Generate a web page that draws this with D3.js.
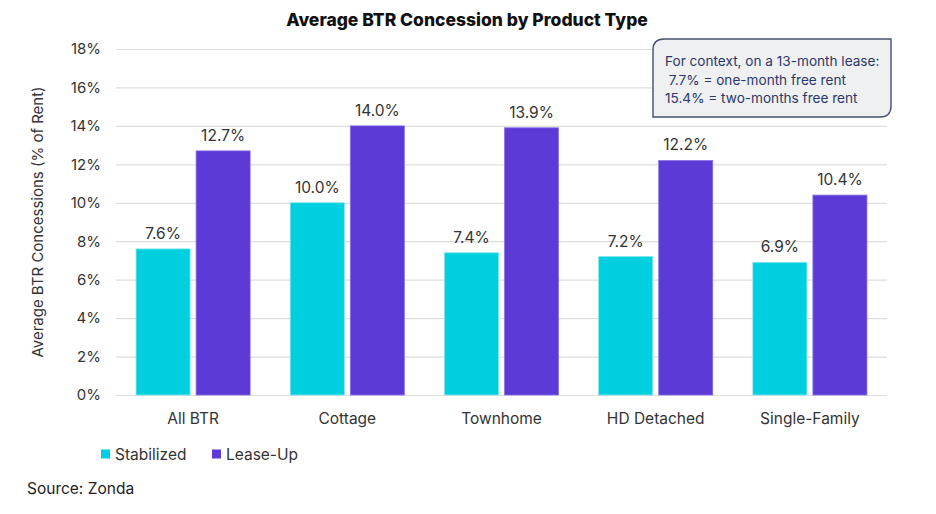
<!DOCTYPE html>
<html>
<head>
<meta charset="utf-8">
<script src="https://cdn.jsdelivr.net/npm/d3@7"></script>
<style>
  body { margin: 0; background: #fff; }
  svg { font-family: Inter, 'Open Sans', sans-serif; }
</style>
</head>
<body>
<svg width="936" height="514"></svg>
<script>
  const categories = ['All BTR', 'Cottage', 'Townhome', 'HD Detached', 'Single-Family'];
  const seriesNames = ['Stabilized', 'Lease-Up'];
  const stabilized = [7.6, 10.0, 7.4, 7.2, 6.9];
  const leaseUp = [12.7, 14.0, 13.9, 12.2, 10.4];
  const yTicks = [0, 2, 4, 6, 8, 10, 12, 14, 16, 18];
  const noteLines = ['For context, on a 13-month lease:', ' 7.7% = one-month free rent', '15.4% = two-months free rent'];

  const colors = ['#00cfdf', '#5b3ad6'];
  const svg = d3.select('svg');
  const margin = {top: 49, right: 49, bottom: 119, left: 116};
  const width = +svg.attr('width');
  const height = +svg.attr('height');
  const innerWidth = width - margin.left - margin.right;
  const innerHeight = height - margin.top - margin.bottom;

  const data = categories.map((c, i) => ({category: c, values: [stabilized[i], leaseUp[i]]}));

  const x0 = d3.scaleBand().domain(categories).range([0, innerWidth]).paddingInner(0.26).paddingOuter(0.13);
  const x1 = d3.scaleBand().domain(seriesNames).range([0, x0.bandwidth()]).paddingInner(0.1);
  const y = d3.scaleLinear().domain([0, 18]).range([innerHeight, 0]);

  const g = svg.append('g').attr('transform', `translate(${margin.left},${margin.top})`);

  // grid + y axis
  const yAxisG = g.append('g')
    .call(d3.axisLeft(y).tickValues(yTicks).tickFormat(d => d + '%').tickSize(-innerWidth).tickPadding(15))
    .attr('font-size', 15).attr('font-family', null);
  yAxisG.select('.domain').remove();
  yAxisG.selectAll('.tick line').attr('stroke', '#dedede').attr('stroke-width', 1.2);
  yAxisG.selectAll('.tick text').attr('fill', '#333');

  // x axis
  const xAxisG = g.append('g')
    .attr('transform', `translate(0,${innerHeight})`)
    .call(d3.axisBottom(x0).tickSize(0).tickPadding(18))
    .attr('font-size', 15.5).attr('font-family', null);
  xAxisG.select('.domain').remove();
  xAxisG.selectAll('.tick text').attr('fill', '#333');

  // bars
  const groups = g.selectAll('.grp').data(data).enter().append('g')
    .attr('transform', d => `translate(${x0(d.category)},0)`);

  groups.selectAll('rect').data(d => d.values.map((v, i) => ({key: seriesNames[i], v, i})))
    .enter().append('rect')
      .attr('x', d => x1(d.key))
      .attr('y', d => y(d.v))
      .attr('width', x1.bandwidth())
      .attr('height', d => innerHeight - y(d.v))
      .attr('fill', d => colors[d.i])
      .attr('stroke', d => d.i === 0 ? '#7fe6ee' : '#8a70e6')
      .attr('stroke-width', 0.8);

  groups.selectAll('.lbl').data(d => d.values.map((v, i) => ({key: seriesNames[i], v})))
    .enter().append('text')
      .attr('x', d => x1(d.key) + x1.bandwidth() / 2)
      .attr('y', d => y(d.v) - 10)
      .attr('text-anchor', 'middle')
      .attr('font-size', 15.5)
      .attr('fill', '#333')
      .text(d => d.v.toFixed(1) + '%');

  // title
  svg.append('text')
    .attr('x', 467).attr('y', 26)
    .attr('text-anchor', 'middle')
    .attr('font-size', 17.5).attr('font-weight', 800).attr('fill', '#111')
    .text('Average BTR Concession by Product Type');

  // y axis title
  svg.append('text')
    .attr('transform', `translate(43,${margin.top + innerHeight / 2}) rotate(-90)`)
    .attr('text-anchor', 'middle')
    .attr('font-size', 15).attr('fill', '#333')
    .text('Average BTR Concessions (% of Rent)');

  // legend
  const legend = svg.append('g').attr('transform', 'translate(101,454)');
  const legendX = [0, 111];
  seriesNames.forEach((s, i) => {
    legend.append('rect').attr('x', legendX[i]).attr('y', -4.5).attr('width', 9).attr('height', 9).attr('fill', colors[i]);
    legend.append('text').attr('x', legendX[i] + 14).attr('y', 6)
      .attr('font-size', 15.5).attr('fill', '#333').text(s);
  });

  // source
  svg.append('text').attr('x', 27).attr('y', 494)
    .attr('font-size', 15.5).attr('fill', '#222').text('Source: Zonda');

  // callout note
  const bx = 653, by = 39, bw = 238, bh = 78, r = 11;
  svg.append('path')
    .attr('d', `M${bx},${by + r} Q${bx},${by} ${bx + r},${by} L${bx + bw},${by} L${bx + bw},${by + bh - r} Q${bx + bw},${by + bh} ${bx + bw - r},${by + bh} L${bx},${by + bh} Z`)
    .attr('fill', '#eef0f2').attr('stroke', '#45526a').attr('stroke-width', 1.4);
  svg.append('g').selectAll('text').data(noteLines).enter().append('text')
    .attr('x', 665).attr('y', (d, i) => 66 + i * 18.5)
    .attr('font-size', 13.6).attr('fill', '#2a3868')
    .attr('xml:space', 'preserve')
    .style('white-space', 'pre')
    .text(d => d);
</script>
</body>
</html>
